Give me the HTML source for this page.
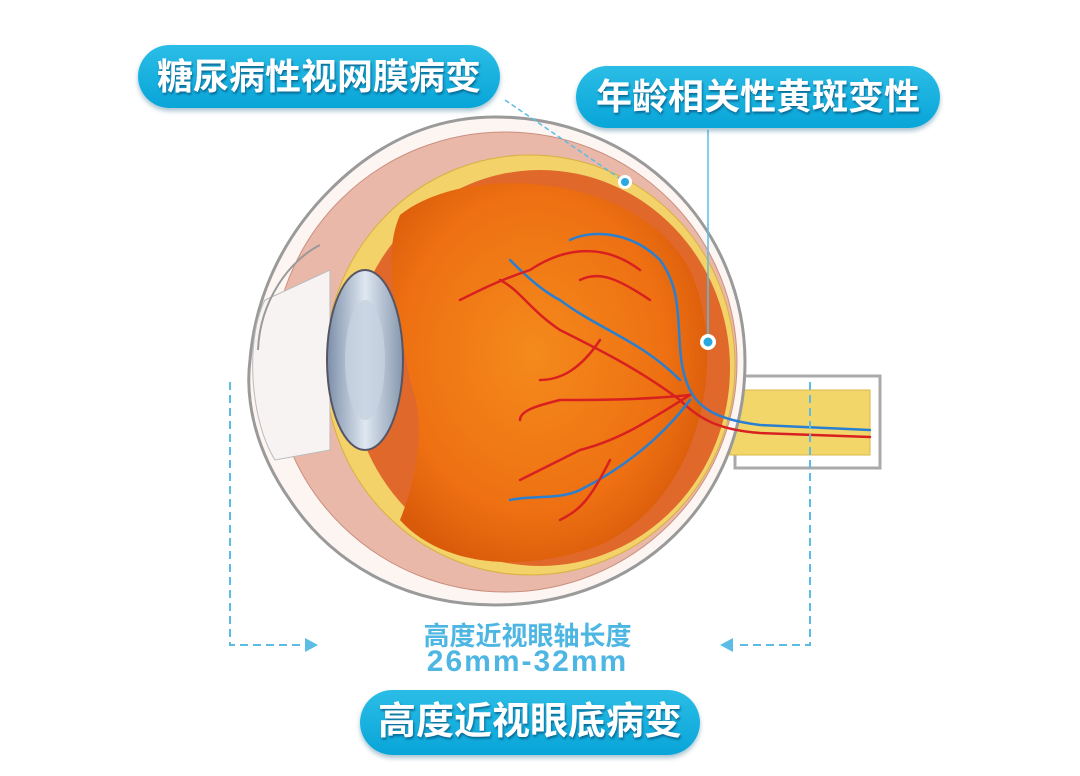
<!DOCTYPE html>
<html><head><meta charset="utf-8"><style>
html,body{margin:0;padding:0;background:#fff;width:1080px;height:776px;overflow:hidden}
.pill{position:absolute;border-radius:34px;background:linear-gradient(#2bbde6,#08a5d8);color:#fff;font-family:"Liberation Sans","Noto Sans CJK SC",sans-serif;font-weight:bold;text-align:center;box-shadow:0 3px 5px rgba(0,80,120,.35);text-shadow:1px 2px 2px rgba(0,60,100,.6)}
.t{position:absolute;font-family:"Liberation Sans","Noto Sans CJK SC",sans-serif;color:#4db6e2;text-align:center}
</style></head><body>
<svg width="1080" height="776" style="position:absolute;left:0;top:0">
<defs>
<radialGradient id="og" cx="0.45" cy="0.45" r="0.6"><stop offset="0" stop-color="#f48a1c"/><stop offset="0.7" stop-color="#ee7012"/><stop offset="1" stop-color="#d85a0a"/></radialGradient>
<linearGradient id="lg" x1="0" x2="1"><stop offset="0" stop-color="#7b8ea8"/><stop offset="0.5" stop-color="#dfe7f1"/><stop offset="1" stop-color="#8597ae"/></linearGradient>
</defs>
<!-- optic nerve -->
<path d="M735 376 L880 376 L880 468 L735 468 Z" fill="#fff" stroke="#aaa" stroke-width="3"/>
<path d="M730 390 L870 390 L870 455 L730 455 Z" fill="#f2d66a" stroke="#d9b94a"/>
<!-- outer eye -->
<path d="M495 117 C640 117 745 230 745 362 C745 500 640 605 495 605 C400 605 330 560 290 500 C255 450 245 400 250 360 C255 300 280 240 330 190 C375 145 430 117 495 117 Z" fill="#fdf5f2" stroke="#9a9a9a" stroke-width="3"/>
<ellipse cx="505" cy="362" rx="232" ry="230" fill="#eab8a8" stroke="#c99080"/>
<ellipse cx="530" cy="365" rx="205" ry="210" fill="#f3d26a" stroke="#d8b040"/>
<ellipse cx="540" cy="368" rx="190" ry="198" fill="#e0682a"/>
<path d="M400 215 C470 160 640 175 690 270 C730 360 700 500 600 545 C520 575 440 565 400 520 C420 470 425 420 410 380 C400 320 380 260 400 215 Z" fill="url(#og)"/>
<!-- cornea -->
<path d="M265 300 C245 340 250 420 275 460 L330 450 L330 270 Z" fill="#f7f3f2" stroke="#bbb"/>
<path d="M258 350 C260 300 290 260 320 245" fill="none" stroke="#999" stroke-width="2"/>
<!-- lens -->
<ellipse cx="365" cy="360" rx="38" ry="90" fill="url(#lg)" stroke="#556" stroke-width="2"/>
<ellipse cx="365" cy="360" rx="20" ry="60" fill="#c6d2e0" opacity=".8"/>
<!-- vessels -->
<g fill="none" stroke-width="2.5" stroke-linecap="round">
<path d="M870 430 L760 425 C720 420 700 410 690 390 C670 350 690 300 660 260 C630 230 590 230 570 240" stroke="#2a7fd0"/>
<path d="M870 437 L760 433 C720 430 700 420 680 400 C640 370 600 350 560 330 C530 310 520 290 500 280" stroke="#d82020"/>
<path d="M690 395 C650 420 620 440 580 450 C560 460 540 470 520 480" stroke="#d82020"/>
<path d="M690 400 C660 440 620 470 580 490 C560 500 530 495 510 500" stroke="#2a7fd0"/>
<path d="M680 380 C640 340 600 330 560 300 C540 290 520 270 510 260" stroke="#2a7fd0"/>
<path d="M690 395 C640 400 600 400 560 400 C540 405 520 410 520 420" stroke="#d82020"/>
<path d="M650 300 C620 280 600 270 580 280" stroke="#d82020"/>
<path d="M600 340 C580 370 560 380 540 380" stroke="#d82020"/>
<path d="M610 460 C590 500 580 510 560 520" stroke="#d82020"/>
<path d="M640 270 C600 240 560 250 530 270 C500 280 480 290 460 300" stroke="#d82020"/>
</g>
<!-- callout lines -->
<line x1="505" y1="100" x2="625" y2="182" stroke="#5bbde5" stroke-width="1.5" stroke-dasharray="5,3"/>
<line x1="708" y1="130" x2="708" y2="340" stroke="#5bbde5" stroke-width="1.5"/>
<circle cx="625" cy="182" r="7" fill="#fff"/><circle cx="625" cy="182" r="4" fill="#29a9de"/>
<circle cx="708" cy="342" r="8" fill="#fff"/><circle cx="708" cy="342" r="4.5" fill="#29a9de"/>
<!-- dimension -->
<g stroke="#5bbde5" stroke-width="2" stroke-dasharray="8,5" fill="none">
<path d="M230 382 L230 645 L305 645"/>
<path d="M810 382 L810 645 L735 645"/>
</g>
<path d="M305 638 L318 645 L305 652 Z" fill="#5bbde5"/>
<path d="M733 638 L720 645 L733 652 Z" fill="#5bbde5"/>
</svg>
<div class="pill" style="left:138px;top:45px;width:362px;height:63px;line-height:63px;font-size:36px">糖尿病性视网膜病变</div>
<div class="pill" style="left:576px;top:66px;width:364px;height:62px;line-height:62px;font-size:36px">年龄相关性黄斑变性</div>
<div class="pill" style="left:360px;top:690px;width:340px;height:65px;line-height:65px;font-size:38px">高度近视眼底病变</div>
<div class="t" style="left:380px;top:616px;width:295px;font-size:26px;font-weight:bold">高度近视眼轴长度</div>
<div class="t" style="left:360px;top:645px;width:335px;font-size:30px;letter-spacing:2px;font-weight:bold">26mm-32mm</div>
</body></html>
